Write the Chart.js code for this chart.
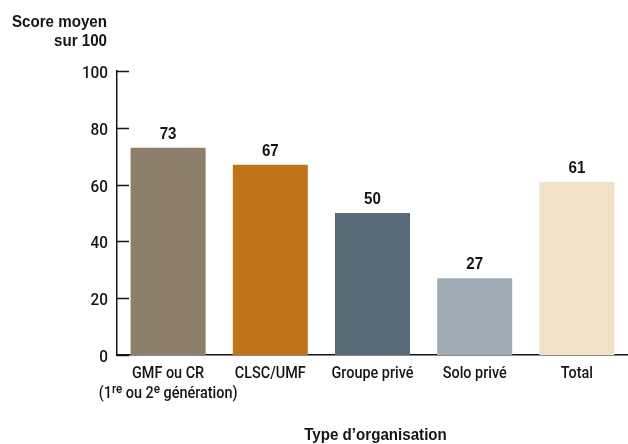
<!DOCTYPE html>
<html>
<head>
<meta charset="utf-8">
<script src="https://cdn.jsdelivr.net/npm/chart.js@4"></script>
<style>
  html, body { margin: 0; padding: 0; background: #fff; }
  #wrap { width: 628px; height: 444px; }
</style>
</head>
<body>
<div id="wrap"><canvas id="scoreChart"></canvas></div>
<script>
// ^{..} marks a superscript run
const categories = [
  ["GMF ou CR", "(1^{re} ou 2^{e} génération)"],
  ["CLSC/UMF"],
  ["Groupe privé"],
  ["Solo privé"],
  ["Total"]
];
const scores = [73, 67, 50, 27, 61];
const barColors = ["#8e7f6a", "#c07418", "#566a78", "#9facb5", "#f0e2c8"];
const yTicks = [0, 20, 40, 60, 80, 100];
const yTitle = ["Score moyen", "sur 100"];
const xTitle = "Type d’organisation";

const LABEL_FONT = '500 {s}px Roboto, "Liberation Sans", sans-serif';
const BOLD_FONT = 'bold {s}px "Liberation Sans", Arial, sans-serif';
const INK = "#141414";
const NARROW = 0.9;       // horizontal squeeze for the tick labels
const NARROW_BOLD = 0.89; // and for the bold ones

const font = (tpl, s) => tpl.replace("{s}", s);

// split "a^{b}c" into plain and superscript pieces
function parseRuns(str) {
  const runs = [];
  const re = /\^\{([^}]*)\}/g;
  let last = 0, m;
  while ((m = re.exec(str)) !== null) {
    if (m.index > last) runs.push({ t: str.slice(last, m.index), sup: false });
    runs.push({ t: m[1], sup: true });
    last = re.lastIndex;
  }
  if (last < str.length) runs.push({ t: str.slice(last), sup: false });
  return runs;
}

function drawNarrow(ctx, text, x, y, align, f, sx) {
  ctx.save();
  ctx.font = f;
  ctx.textAlign = align;
  ctx.textBaseline = "alphabetic";
  ctx.translate(x, y);
  ctx.scale(sx, 1);
  ctx.fillText(text, 0, 0);
  ctx.restore();
}

function drawRich(ctx, str, cx, y, size, sx) {
  const runs = parseRuns(str);
  const base = font(LABEL_FONT, size);
  const small = font(LABEL_FONT, Math.round(size * 0.8));
  ctx.save();
  let total = 0;
  runs.forEach(r => {
    ctx.font = r.sup ? small : base;
    r.w = ctx.measureText(r.t).width * sx;
    total += r.w;
  });
  let x = cx - total / 2;
  runs.forEach(r => {
    drawNarrow(ctx, r.t, x, r.sup ? y - size * 0.3 : y, "left", r.sup ? small : base, sx);
    x += r.w;
  });
  ctx.restore();
}

// all text plus the inward tick marks on the y axis
const extras = {
  id: "extras",
  afterDraw(chart) {
    const ctx = chart.ctx;
    const xs = chart.scales.x;
    const ys = chart.scales.y;
    const area = chart.chartArea;
    ctx.save();
    ctx.fillStyle = INK;
    ctx.strokeStyle = INK;
    ctx.lineWidth = 1.5;

    yTicks.forEach(v => {
      const py = Math.round(ys.getPixelForValue(v)) + 0.5;
      ctx.beginPath();
      ctx.moveTo(ys.right, py);
      ctx.lineTo(ys.right + 12, py);
      ctx.stroke();
      drawNarrow(ctx, String(v), ys.right - 9, py + 6, "right", font(LABEL_FONT, 17), NARROW);
    });

    categories.forEach((lines, i) => {
      const px = xs.getPixelForValue(i);
      lines.forEach((line, j) => {
        drawRich(ctx, line, px, area.bottom + 23 + j * 20, 16, NARROW);
      });
    });

    const boldTitle = font(BOLD_FONT, 17);
    drawNarrow(ctx, yTitle[0], ys.right - 10, 27, "right", boldTitle, NARROW_BOLD);
    drawNarrow(ctx, yTitle[1], ys.right - 10, 46, "right", boldTitle, NARROW_BOLD);
    drawNarrow(ctx, xTitle, (area.left + area.right) / 2 + 3, 440, "center", boldTitle, NARROW_BOLD);

    const meta = chart.getDatasetMeta(0);
    meta.data.forEach((bar, i) => {
      drawNarrow(ctx, String(scores[i]), bar.x, bar.y - 9, "center", font(BOLD_FONT, 17), NARROW_BOLD);
    });
    ctx.restore();
  }
};

new Chart(document.getElementById("scoreChart"), {
  type: "bar",
  data: {
    labels: categories.map(c => c[0]),
    datasets: [{
      data: scores,
      backgroundColor: barColors,
      borderWidth: 0,
      categoryPercentage: 1,
      barPercentage: 0.734
    }]
  },
  options: {
    responsive: true,
    maintainAspectRatio: false,
    animation: false,
    layout: { padding: { top: 71, left: 0, right: 0, bottom: 0 } },
    plugins: {
      legend: { display: false },
      tooltip: { enabled: false }
    },
    scales: {
      x: {
        grid: { display: false, drawTicks: false },
        border: { display: true, color: INK, width: 1.5 },
        ticks: { display: false },
        afterFit(scale) { scale.height = 89; }
      },
      y: {
        min: 0,
        max: 100,
        afterBuildTicks(scale) { scale.ticks = yTicks.map(v => ({ value: v })); },
        grid: { display: false, drawTicks: false },
        border: { display: true, color: INK, width: 1.5 },
        ticks: { display: false },
        afterFit(scale) { scale.width = 117; }
      }
    }
  },
  plugins: [extras]
});
</script>
</body>
</html>
